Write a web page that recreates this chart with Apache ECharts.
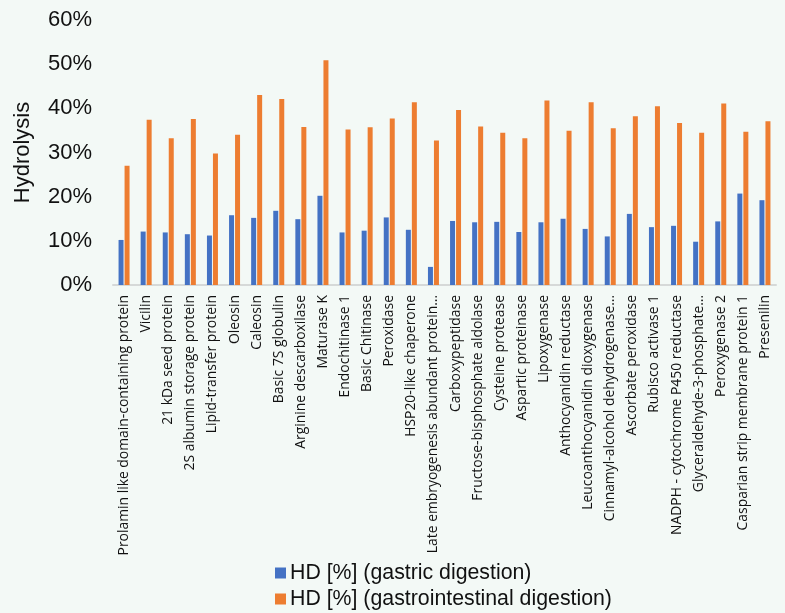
<!DOCTYPE html>
<html>
<head>
<meta charset="utf-8">
<script src="https://cdn.jsdelivr.net/npm/echarts@6/dist/echarts.min.js"></script>
<style>
  html, body { margin: 0; padding: 0; background: #F3F9F6; }
  #main { width: 785px; height: 613px; }
</style>
</head>
<body>
<div id="main"></div>
<script>
// proteins on the x axis
var categories = [
  'Prolamin like domain-containing protein', 'Vicilin', '21 kDa seed protein',
  '2S albumin storage protein', 'Lipid-transfer protein', 'Oleosin', 'Caleosin',
  'Basic 7S globulin', 'Arginine descarboxilase', 'Maturase K', 'Endochitinase 1',
  'Basic Chitinase', 'Peroxidase', 'HSP20-like chaperone',
  'Late embryogenesis abundant protein…', 'Carboxypeptidase',
  'Fructose-bisphosphate aldolase', 'Cysteine protease', 'Aspartic proteinase',
  'Lipoxygenase', 'Anthocyanidin reductase', 'Leucoanthocyanidin dioxygenase',
  'Cinnamyl-alcohol dehydrogenase…', 'Ascorbate peroxidase', 'Rubisco activase 1',
  'NADPH - cytochrome P450 reductase', 'Glyceraldehyde-3-phosphate…',
  'Peroxygenase 2', 'Casparian strip membrane protein 1', 'Presenilin'
];
// hydrolysis degree, %
var gastric = [10.2, 12.1, 11.9, 11.5, 11.2, 15.8, 15.2, 16.8, 14.9, 20.2,
  11.9, 12.3, 15.3, 12.5, 4.1, 14.5, 14.2, 14.3, 12.0, 14.2,
  15.0, 12.7, 11.0, 16.1, 13.1, 13.4, 9.8, 14.4, 20.7, 19.2];
var gastrointestinal = [27.0, 37.4, 33.2, 37.6, 29.8, 34.0, 43.0, 42.1, 35.8, 50.9,
  35.2, 35.7, 37.7, 41.4, 32.7, 39.6, 35.9, 34.5, 33.2, 41.8,
  34.9, 41.4, 35.5, 38.2, 40.5, 36.7, 34.5, 41.1, 34.7, 37.1];
var yTicks = [0, 10, 20, 30, 40, 50, 60];

var myChart = echarts.init(document.getElementById('main'));
var option = {
  backgroundColor: '#F3F9F6',
  animation: false,
  textStyle: { fontFamily: 'Liberation Sans, Arial, sans-serif' },
  grid: { left: 113, right: 9, top: 20, bottom: 328, containLabel: false },
  legend: {
    orient: 'vertical',
    left: 275,
    top: 562,
    padding: 0,
    itemWidth: 11,
    itemHeight: 11,
    itemGap: 4,
    icon: 'rect',
    textStyle: { fontSize: 21.3, color: '#111', lineHeight: 22, padding: [0, 0, 0, -1] },
    data: ['HD [%] (gastric digestion)', 'HD [%] (gastrointestinal digestion)']
  },
  xAxis: {
    type: 'category',
    data: categories,
    axisLine: { lineStyle: { color: '#D6D9D8', width: 2 } },
    axisTick: { show: false },
    axisLabel: {
      interval: 0,
      rotate: 90,
      fontFamily: 'Open Sans',
      fontSize: 13.9,
      color: '#111',
      margin: 10
    }
  },
  yAxis: {
    type: 'value',
    min: yTicks[0],
    max: yTicks[yTicks.length - 1],
    interval: 10,
    name: 'Hydrolysis',
    nameLocation: 'middle',
    nameRotate: 90,
    nameGap: 79,
    nameTextStyle: { fontSize: 22, color: '#111' },
    splitLine: { show: false },
    axisLine: { show: false },
    axisTick: { show: false },
    axisLabel: {
      fontSize: 22,
      color: '#111',
      margin: 21,
      formatter: '{value}%'
    }
  },
  series: [{
    name: 'HD [%] (gastric digestion)',
    type: 'bar',
    data: gastric,
    barWidth: 5,
    barGap: '20%',
    itemStyle: { color: '#4472C4' }
  }, {
    name: 'HD [%] (gastrointestinal digestion)',
    type: 'bar',
    data: gastrointestinal,
    barWidth: 5,
    itemStyle: { color: '#ED7D31' }
  }]
};
myChart.setOption(option);
</script>
</body>
</html>
